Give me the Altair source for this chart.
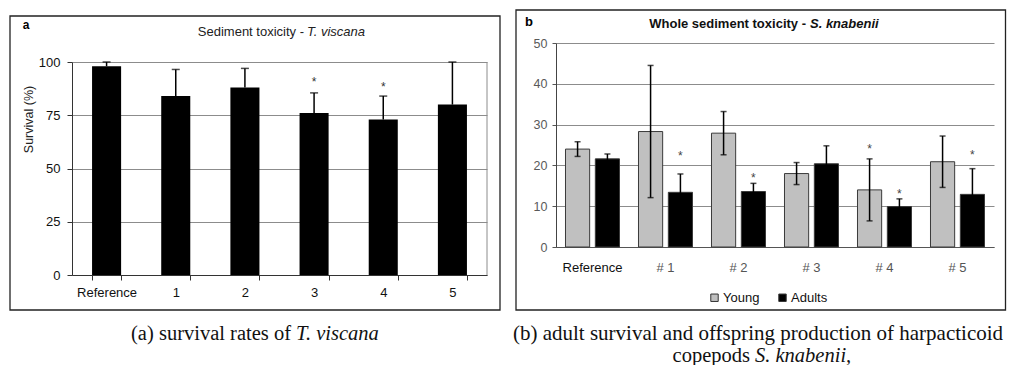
import altair as alt
import pandas as pd

# ---------------- data: panel a ----------------
a_sites = ["Reference", "1", "2", "3", "4", "5"]
a_survival = [98, 84, 88, 76, 73, 80]
a_sd = [2, 12.5, 9, 9.5, 11, 20]
a_star_sites = ["3", "4"]
a_star_y = [92, 89.5]
a_ticks = [0, 25, 50, 75, 100]

# ---------------- data: panel b ----------------
b_sites = ["Reference", "# 1", "# 2", "# 3", "# 4", "# 5"]
b_groups = ["Young", "Adults"]
b_young = [24.0, 28.3, 27.9, 18.0, 14.0, 20.9]
b_young_sd = [1.8, 16.2, 5.3, 2.7, 7.6, 6.3]
b_adult = [21.6, 13.4, 13.6, 20.4, 9.9, 12.9]
b_adult_sd = [1.2, 4.5, 2.0, 4.4, 1.9, 6.3]
b_star_sites = ["# 1", "# 2", "# 4", "# 4", "# 5"]
b_star_groups = ["Adults", "Adults", "Young", "Adults", "Adults"]
b_star_y = [23.0, 17.6, 24.8, 13.8, 23.2]
b_ticks = [0, 10, 20, 30, 40, 50]
b_colors = ["#c0c0c0", "#000000"]

SANS = "Liberation Sans"
SERIF = "Liberation Serif"
W, H = 999, 357

dfa = pd.DataFrame({"site": a_sites, "surv": a_survival, "sd": a_sd})
dfa["hi"] = dfa["surv"] + dfa["sd"]
dfa_star = pd.DataFrame({"site": a_star_sites, "y": a_star_y})

dfb = pd.DataFrame({
    "site": b_sites * 2,
    "group": ["Young"] * len(b_sites) + ["Adults"] * len(b_sites),
    "val": b_young + b_adult,
    "sd": b_young_sd + b_adult_sd,
})
dfb["lo"] = dfb["val"] - dfb["sd"]
dfb["hi"] = dfb["val"] + dfb["sd"]
dfb_star = pd.DataFrame({"site": b_star_sites, "group": b_star_groups, "y": b_star_y})

one = pd.DataFrame({"k": [0]})

# ---------------- panel a ----------------
xa_scale = alt.Scale(range=[64, 479], paddingInner=0.58, paddingOuter=0.29)
ya_scale = alt.Scale(domain=[0, 100], range=[267, 54], nice=False)

xa_axis = alt.Axis(orient="bottom", offset=-90, title=None, labelAngle=0, tickBand="extent",
                   tickSize=5, tickColor="#333", domainColor="#333", labelFontSize=13,
                   labelColor="#111", labelPadding=6, labelFont=SANS, grid=False)
ya_axis = alt.Axis(orient="left", offset=-64, values=a_ticks, title="Survival (%)",
                   titleFont=SANS, titleFontSize=12.5, titleFontWeight="normal", titleColor="#222",
                   titleX=-44, titleY=111, titleBaseline="middle",
                   tickSize=5, tickColor="#333", domainColor="#333", labelFontSize=13,
                   labelColor="#111", labelPadding=7, labelFont=SANS,
                   grid=True, gridColor="#8c8c8c", gridWidth=1)

xa = alt.X("site:N", sort=a_sites, scale=xa_scale)

bars_a = alt.Chart(dfa).mark_bar(color="black").encode(
    x=alt.X("site:N", sort=a_sites, scale=xa_scale, axis=xa_axis),
    y=alt.Y("surv:Q", scale=ya_scale, axis=ya_axis),
)
err_a = alt.Chart(dfa).mark_rule(color="black", strokeWidth=1.5).encode(
    x=xa,
    y=alt.Y("surv:Q", scale=ya_scale),
    y2="hi:Q",
)
cap_a = alt.Chart(dfa).mark_tick(color="black", size=8, thickness=1.5).encode(
    x=xa,
    y=alt.Y("hi:Q", scale=ya_scale),
)
star_a = alt.Chart(dfa_star).mark_text(text="*", fontSize=12, font=SANS, color="#333",
                                       baseline="middle", dy=3).encode(
    x=xa,
    y=alt.Y("y:Q", scale=ya_scale),
)
panel_a = alt.layer(bars_a, err_a, cap_a, star_a)

# ---------------- panel b ----------------
xb_scale = alt.Scale(range=[548, 986], paddingInner=0.26, paddingOuter=0.13)
yb_scale = alt.Scale(domain=[0, 50], range=[239, 35], nice=False)
xo_scale = alt.Scale(paddingInner=0.19, paddingOuter=0)

xb_axis = alt.Axis(orient="bottom", offset=-118, title=None, labelAngle=0, ticks=False,
                   domainColor="#555", labelFontSize=13, labelPadding=14, labelFont=SANS,
                   labelColor=alt.ExprRef(expr="datum.value == 'Reference' ? '#111' : '#555'"),
                   grid=False)
yb_axis = alt.Axis(orient="left", offset=-548, values=b_ticks, title=None,
                   tickSize=4, tickColor="#555", domainColor="#444", labelFontSize=12.5,
                   labelColor="#595959", labelPadding=5, labelFont=SANS,
                   grid=True, gridColor="#8c8c8c", gridWidth=1)

xb = alt.X("site:N", sort=b_sites, scale=xb_scale)
xo = alt.XOffset("group:N", sort=b_groups, scale=xo_scale)

bars_b = alt.Chart(dfb).mark_bar(stroke="#3a3a3a", strokeWidth=1).encode(
    x=alt.X("site:N", sort=b_sites, scale=xb_scale, axis=xb_axis),
    xOffset=xo,
    y=alt.Y("val:Q", scale=yb_scale, axis=yb_axis),
    color=alt.Color("group:N", sort=b_groups,
                    scale=alt.Scale(domain=b_groups, range=b_colors),
                    legend=alt.Legend(title=None, orient="none", legendX=700, legendY=283,
                                      direction="horizontal", symbolType="square",
                                      symbolSize=55, symbolStrokeColor="#333",
                                      symbolStrokeWidth=1, labelFontSize=13, labelOffset=2,
                                      columnPadding=16, labelFont=SANS, labelColor="#111")),
)
err_b = alt.Chart(dfb).mark_rule(color="black", strokeWidth=1.5).encode(
    x=xb, xOffset=xo,
    y=alt.Y("lo:Q", scale=yb_scale),
    y2="hi:Q",
)
cap_b = alt.Chart(dfb).mark_tick(color="black", size=6, thickness=1.5).encode(
    x=xb, xOffset=xo,
    y=alt.Y("hi:Q", scale=yb_scale),
)
cap_b_lo = alt.Chart(dfb).mark_tick(color="black", size=6, thickness=1.5).encode(
    x=xb, xOffset=xo,
    y=alt.Y("lo:Q", scale=yb_scale),
)
star_b = alt.Chart(dfb_star).mark_text(text="*", fontSize=12, font=SANS, color="#444",
                                       baseline="middle", dy=3).encode(
    x=xb, xOffset=xo,
    y=alt.Y("y:Q", scale=yb_scale),
)
panel_b = alt.layer(bars_b, err_b, cap_b, cap_b_lo, star_b)

# ---------------- decoration: boxes, titles, captions ----------------
def box(x1, x2, y1, y2):
    return alt.Chart(one).mark_rect(fill=None, stroke="#222", strokeWidth=1.3).encode(
        x=alt.value(x1), x2=alt.value(x2), y=alt.value(y1), y2=alt.value(y2))

def txt(s, x, y, size, align="left", weight="normal", style="normal", font=SANS,
        color="#222", baseline="middle"):
    return alt.Chart(one).mark_text(text=s, fontSize=size, align=align, fontWeight=weight,
                                    fontStyle=style, font=font, color=color,
                                    baseline=baseline).encode(
        x=alt.value(x), y=alt.value(y))

frame_a = alt.Chart(one).mark_rule(color="#8c8c8c", strokeWidth=1).encode(
    x=alt.value(479), y=alt.value(54), y2=alt.value(267))

deco = [
    box(2, 492, 8, 302),
    box(508, 997.5, 2, 302),
    frame_a,
    txt("a", 18, 17, 12, align="center", weight="bold", color="#000"),
    txt("b", 521, 14, 13, align="center", weight="bold", color="#000"),
    txt("Sediment toxicity -", 296, 24, 13, align="right"),
    txt("T. viscana", 299, 24, 13, style="italic"),
    txt("Whole sediment toxicity -", 798, 16, 13, align="right", weight="bold", color="#111"),
    txt("S. knabenii", 802, 16, 13, weight="bold", style="italic", color="#111"),
    txt("(a)  survival rates of", 283, 332, 20.5, align="right",
        font=SERIF, color="#111", baseline="alphabetic"),
    txt("T. viscana", 288, 332, 20.5, style="italic", font=SERIF, color="#111",
        baseline="alphabetic"),
    txt("(b)  adult survival and offspring production of harpacticoid", 750, 332, 21,
        align="center", font=SERIF, color="#111", baseline="alphabetic"),
    txt("copepods", 742, 354, 20.5, align="right", font=SERIF, color="#111",
        baseline="alphabetic"),
    txt("S. knabenii,", 747, 354, 20.5, style="italic", font=SERIF, color="#111",
        baseline="alphabetic"),
]

chart = alt.layer(*deco, panel_a, panel_b).resolve_scale(
    x="independent", y="independent", xOffset="independent"
).properties(
    width=W, height=H, padding=0, autosize=alt.AutoSizeParams(type="none")
).configure_view(stroke=None).configure_axis(labelFont=SANS)

chart.save("out.html", embed_options={"renderer": "svg", "actions": False})
